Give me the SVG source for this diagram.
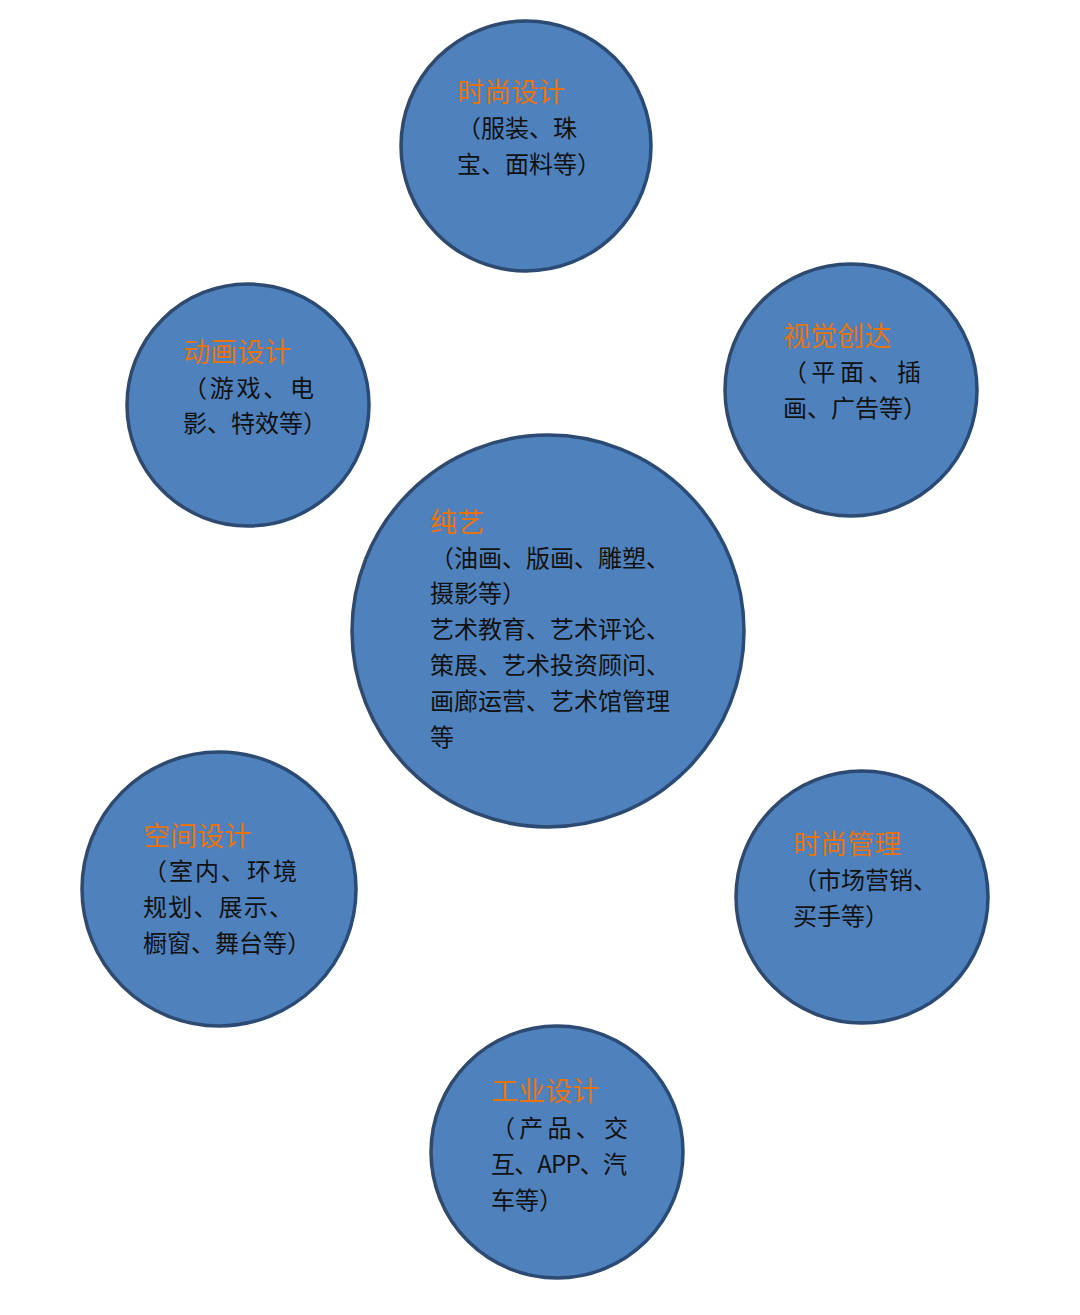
<svg xmlns="http://www.w3.org/2000/svg" width="1080" height="1315" viewBox="0 0 1080 1315">
<style>
.c{fill:#4F81BD;stroke:#2C4A72;stroke-width:3.5}
.t{font-family:"Noto Sans CJK SC","Noto Sans",sans-serif;font-size:27px;fill:#E8720C}
.b{font-family:"Noto Sans CJK SC","Noto Sans",sans-serif;font-size:24px;fill:#111}
</style>
<rect width="1080" height="1315" fill="#fff"/>
<g id="connectors"/>
<g id="n-fashion-design">
<circle class="c" cx="526" cy="146" r="125"/>
<text class="t" x="457" y="102">时尚设计</text>
<text class="b" x="457" y="137">（服装、珠</text>
<text class="b" x="457" y="173">宝、面料等）</text>
</g>
<g id="n-animation">
<circle class="c" cx="248" cy="405" r="121"/>
<text class="t" x="183" y="362">动画设计</text>
<text class="b" x="183" y="397" textLength="131" lengthAdjust="spacing">（游戏、电</text>
<text class="b" x="183" y="432">影、特效等）</text>
</g>
<g id="n-visual">
<circle class="c" cx="851" cy="390" r="126"/>
<text class="t" x="783" y="346">视觉创达</text>
<text class="b" x="783" y="381" textLength="138" lengthAdjust="spacing">（平面、插</text>
<text class="b" x="783" y="417">画、广告等）</text>
</g>
<g id="n-fine-art">
<circle class="c" cx="548" cy="631" r="196"/>
<text class="t" x="430" y="532">纯艺</text>
<text class="b" x="430" y="567">（油画、版画、雕塑、</text>
<text class="b" x="430" y="602">摄影等）</text>
<text class="b" x="430" y="638">艺术教育、艺术评论、</text>
<text class="b" x="430" y="674">策展、艺术投资顾问、</text>
<text class="b" x="430" y="710">画廊运营、艺术馆管理</text>
<text class="b" x="430" y="746">等</text>
</g>
<g id="n-space">
<circle class="c" cx="219" cy="889" r="137"/>
<text class="t" x="143" y="846">空间设计</text>
<text class="b" x="143" y="880" textLength="154" lengthAdjust="spacing">（室内、环境</text>
<text class="b" x="143" y="916" textLength="150" lengthAdjust="spacing">规划、展示、</text>
<text class="b" x="143" y="952">橱窗、舞台等）</text>
</g>
<g id="n-fashion-management">
<circle class="c" cx="862" cy="897" r="126"/>
<text class="t" x="793" y="854">时尚管理</text>
<text class="b" x="793" y="889">（市场营销、</text>
<text class="b" x="793" y="925">买手等）</text>
</g>
<g id="n-industrial">
<circle class="c" cx="557" cy="1152" r="126"/>
<text class="t" x="491" y="1101">工业设计</text>
<text class="b" x="491" y="1137" textLength="137" lengthAdjust="spacing">（产品、交</text>
<text class="b" x="491" y="1173" textLength="136" lengthAdjust="spacing">互、APP、汽</text>
<text class="b" x="491" y="1209">车等）</text>
</g>
</svg>
